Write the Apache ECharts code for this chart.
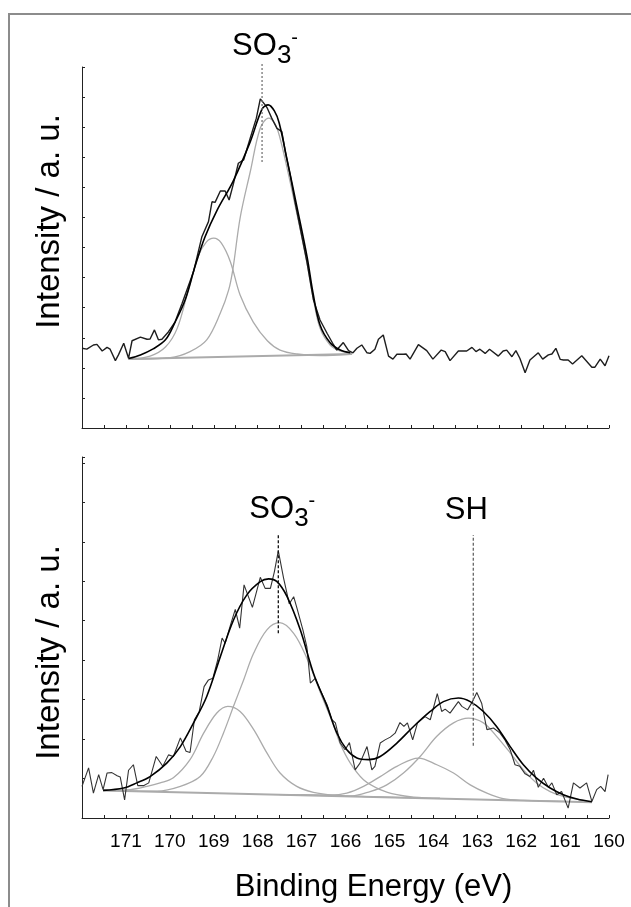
<!DOCTYPE html>
<html>
<head>
<meta charset="utf-8">
<script src="https://cdn.jsdelivr.net/npm/echarts@6/dist/echarts.min.js"></script>
<style>
html, body { margin: 0; padding: 0; background: #fff; }
#chart { width: 631px; height: 907px; }
</style>
</head>
<body>
<div id="chart"></div>
<script>
// ---- top spectrum (SO3- only) : [binding energy, intensity]
var topRaw = [[172.00,2.65],[171.89,2.62],[171.74,2.76],[171.66,2.78],[171.54,2.56],[171.43,2.68],[171.36,2.62],[171.24,2.24],[171.17,2.43],[171.05,2.82],[170.94,2.32],[170.86,2.90],[170.67,3.02],[170.52,2.95],[170.45,2.96],[170.35,3.26],[170.26,2.93],[170.18,2.95],[170.03,3.20],[169.88,3.53],[169.72,4.15],[169.46,5.20],[169.27,6.36],[169.12,6.86],[169.04,7.52],[168.97,7.50],[168.85,7.88],[168.74,7.88],[168.65,7.58],[168.55,8.13],[168.44,8.80],[168.32,8.91],[168.17,9.63],[168.03,10.30],[167.94,10.94],[167.83,10.74],[167.78,10.63],[167.68,10.30],[167.56,9.96],[167.45,9.85],[167.37,9.19],[167.26,8.41],[167.15,7.52],[167.03,6.64],[166.88,5.53],[166.73,4.26],[166.58,3.59],[166.42,3.15],[166.27,2.76],[166.20,2.59],[166.05,2.84],[165.93,2.57],[165.83,2.50],[165.74,2.65],[165.63,2.76],[165.51,2.50],[165.44,2.48],[165.33,2.62],[165.25,2.95],[165.14,3.09],[165.02,2.39],[164.92,2.29],[164.83,2.45],[164.68,2.45],[164.62,2.46],[164.53,2.29],[164.34,2.77],[164.15,2.57],[164.01,2.29],[163.82,2.59],[163.73,2.54],[163.62,2.24],[163.43,2.56],[163.24,2.56],[163.12,2.68],[163.03,2.54],[162.94,2.62],[162.82,2.48],[162.72,2.62],[162.52,2.39],[162.41,2.56],[162.33,2.59],[162.21,2.37],[162.12,2.57],[162.03,2.32],[161.91,1.84],[161.80,2.26],[161.61,2.50],[161.51,2.29],[161.38,2.43],[161.30,2.46],[161.21,2.65],[161.11,2.28],[161.04,2.26],[160.93,2.26],[160.83,2.13],[160.62,2.40],[160.39,2.02],[160.32,2.02],[160.20,2.29],[160.09,2.07],[160.00,2.40]];
var topFit = [[170.94,2.31],[170.67,2.43],[170.38,2.63],[170.10,2.93],[169.88,3.52],[169.65,4.26],[169.42,5.40],[169.20,6.35],[168.92,7.25],[168.56,8.20],[168.17,9.51],[167.90,10.60],[167.76,10.74],[167.62,10.54],[167.51,10.14],[167.33,8.91],[167.10,7.31],[166.87,5.65],[166.74,4.49],[166.58,3.42],[166.35,2.83],[166.12,2.59],[165.89,2.50]];
var topPeak1 = [[170.94,2.29],[170.45,2.39],[170.10,2.69],[169.83,3.32],[169.58,4.59],[169.35,5.72],[169.17,6.18],[169.00,6.31],[168.83,6.15],[168.62,5.52],[168.40,4.42],[168.10,3.52],[167.78,2.90],[167.49,2.59],[167.10,2.46],[166.58,2.41],[165.89,2.45]];
var topPeak2 = [[170.94,2.29],[169.99,2.34],[169.54,2.54],[169.16,2.93],[168.85,3.82],[168.66,4.59],[168.56,5.32],[168.40,6.98],[168.17,8.51],[167.94,9.97],[167.75,10.30],[167.62,10.14],[167.51,9.74],[167.33,8.64],[167.10,7.08],[166.87,5.45],[166.74,4.36],[166.58,3.32],[166.35,2.76],[166.12,2.56],[165.89,2.48]];
var topBase = [[170.94,2.29],[165.85,2.46]];
var topMark = [[167.90,8.84],[167.90,12.12]];

// ---- bottom spectrum (SO3- and SH)
var botRaw = [[172.00,0.80],[171.85,1.27],[171.74,0.63],[171.62,1.10],[171.52,0.72],[171.43,1.14],[171.32,1.15],[171.20,1.07],[171.13,1.04],[171.03,0.46],[170.94,1.21],[170.83,1.35],[170.73,0.82],[170.60,0.82],[170.48,0.89],[170.31,1.56],[170.16,1.31],[170.03,1.60],[169.92,1.56],[169.76,2.03],[169.63,1.69],[169.54,1.66],[169.44,2.49],[169.33,2.70],[169.22,3.33],[169.12,3.50],[169.02,3.54],[168.91,4.01],[168.81,4.56],[168.74,4.43],[168.63,4.85],[168.51,5.29],[168.41,4.81],[168.31,5.91],[168.12,5.34],[167.94,6.10],[167.83,5.82],[167.71,5.82],[167.62,6.24],[167.53,6.77],[167.41,6.08],[167.28,5.43],[167.18,5.61],[167.11,5.34],[166.97,4.77],[166.88,4.34],[166.80,3.42],[166.69,3.54],[166.58,3.25],[166.42,2.87],[166.31,2.49],[166.23,2.41],[166.12,1.90],[166.01,1.73],[165.91,1.91],[165.78,1.22],[165.67,1.39],[165.51,1.81],[165.40,1.22],[165.33,1.31],[165.21,1.90],[165.10,1.98],[164.98,2.05],[164.87,2.15],[164.76,2.42],[164.67,2.32],[164.59,2.41],[164.47,1.98],[164.36,2.41],[164.19,2.57],[164.07,2.49],[163.91,3.15],[163.81,2.70],[163.73,2.76],[163.62,2.66],[163.43,2.95],[163.35,2.83],[163.22,2.74],[163.12,2.93],[163.01,3.18],[162.90,2.91],[162.78,2.24],[162.63,2.28],[162.48,2.15],[162.37,1.98],[162.25,1.73],[162.14,1.35],[162.03,1.31],[161.91,1.12],[161.80,1.05],[161.72,1.21],[161.61,0.78],[161.49,1.01],[161.38,0.78],[161.30,0.89],[161.19,0.59],[161.08,0.67],[160.93,0.25],[160.81,0.89],[160.66,0.76],[160.51,0.89],[160.39,0.42],[160.28,0.72],[160.19,0.80],[160.09,0.67],[160.02,1.10]];
var botFit = [[171.52,0.70],[171.05,0.76],[170.75,0.89],[170.45,1.05],[170.07,1.39],[169.76,1.81],[169.46,2.41],[169.16,3.08],[168.85,4.09],[168.55,5.02],[168.25,5.65],[167.94,5.99],[167.75,6.06],[167.56,5.99],[167.33,5.61],[167.03,4.77],[166.73,3.67],[166.42,2.83],[166.20,2.16],[165.97,1.73],[165.74,1.52],[165.48,1.48],[165.21,1.56],[164.83,1.90],[164.45,2.32],[164.07,2.70],[163.77,2.95],[163.43,3.04],[163.16,2.95],[162.86,2.70],[162.56,2.32],[162.25,1.81],[161.95,1.35],[161.65,1.01],[161.34,0.76],[161.04,0.59],[160.73,0.48],[160.39,0.41]];
var botPeak1 = [[171.52,0.70],[170.90,0.72],[170.52,0.80],[170.22,0.89],[169.92,1.02],[169.54,1.48],[169.23,2.15],[168.93,2.66],[168.68,2.83],[168.40,2.70],[168.09,2.24],[167.79,1.65],[167.49,1.14],[167.11,0.80],[166.73,0.65],[166.27,0.58],[165.44,0.54],[164.50,0.51]];
var botPeak2 = [[171.52,0.70],[170.29,0.68],[169.76,0.80],[169.31,1.05],[169.01,1.56],[168.78,2.15],[168.55,2.83],[168.32,3.50],[168.09,4.18],[167.79,4.77],[167.50,4.95],[167.18,4.68],[166.88,4.05],[166.58,3.20],[166.27,2.35],[166.12,1.88],[165.89,1.39],[165.59,0.97],[165.21,0.72],[164.83,0.59],[164.45,0.53],[163.85,0.50]];
var botPeak3 = [[167.50,0.59],[166.35,0.58],[165.97,0.63],[165.59,0.80],[165.21,1.05],[164.83,1.31],[164.34,1.52],[163.92,1.35],[163.54,1.14],[163.16,0.84],[162.78,0.63],[162.41,0.49],[161.95,0.445],[161.00,0.42]];
var botPeak4 = [[167.00,0.58],[166.35,0.57],[165.89,0.555],[165.44,0.67],[165.06,0.84],[164.68,1.14],[164.30,1.56],[163.92,2.07],[163.54,2.41],[163.20,2.53],[162.86,2.41],[162.56,2.07],[162.25,1.65],[161.95,1.22],[161.65,0.89],[161.34,0.67],[161.04,0.55],[160.66,0.46],[160.39,0.41]];
var botBase = [[171.52,0.70],[160.39,0.40]];
var botMarkSO3 = [[167.53,4.68],[167.53,7.17]];
var botMarkSH = [[163.09,1.83],[163.09,7.17]];

var FONT = 'Liberation Sans, Arial, sans-serif';

var chart = echarts.init(document.getElementById('chart'));

function curve(data, grid, color, width, smooth, z) {
    return {
        type: 'line',
        data: data,
        xAxisIndex: grid,
        yAxisIndex: grid,
        showSymbol: false,
        symbol: 'none',
        smooth: smooth,
        lineStyle: { color: color, width: width },
        z: z,
        silent: true
    };
}

var richText = {
    m: { fontSize: 31, lineHeight: 45, fontFamily: FONT, color: '#000' },
    s: { fontSize: 26, lineHeight: 26, verticalAlign: 'bottom', fontFamily: FONT, color: '#000' },
    p: { fontSize: 20, lineHeight: 20, verticalAlign: 'top', padding: [5, 0, 0, 0], fontFamily: FONT, color: '#000' }
};

function marker(data, grid, color, dash, text, offset) {
    return {
        type: 'line',
        xAxisIndex: grid,
        yAxisIndex: grid,
        clip: false,
        symbol: 'circle',
        symbolSize: 1,
        itemStyle: { color: 'rgba(0,0,0,0)' },
        lineStyle: { color: color, width: 1.3, type: dash },
        data: [data[0], {
            value: data[1],
            label: {
                show: true,
                position: 'inside',
                offset: offset,
                formatter: text,
                rich: richText
            }
        }],
        z: 5,
        silent: true
    };
}

function xAxisOf(grid, withLabels) {
    return {
        gridIndex: grid,
        type: 'value',
        min: 160,
        max: 172,
        interval: 0.5,
        inverse: true,
        axisLine: { show: true, onZero: false, lineStyle: { color: '#222', width: 1 } },
        axisTick: { show: true, inside: true, length: 3, lineStyle: { color: '#222' } },
        splitLine: { show: false },
        axisLabel: withLabels ? {
            show: true,
            margin: 14,
            fontSize: 19,
            color: '#000',
            fontFamily: FONT,
            formatter: function (v) {
                return (v % 1 === 0 && v !== 172) ? String(v) : '';
            }
        } : { show: false },
        name: withLabels ? 'Binding Energy (eV)' : '',
        nameLocation: 'middle',
        nameGap: 54,
        nameTextStyle: { fontSize: 31, color: '#000', fontFamily: FONT, padding: [0, 0, 0, 56] }
    };
}

function yAxisOf(grid, max, pad) {
    return {
        gridIndex: grid,
        type: 'value',
        min: 0,
        max: max,
        interval: 1,
        axisLine: { show: true, lineStyle: { color: '#222', width: 1 } },
        axisTick: { show: true, inside: true, length: 3, lineStyle: { color: '#222' } },
        axisLabel: { show: false },
        splitLine: { show: false },
        name: 'Intensity / a. u.',
        nameLocation: 'middle',
        nameRotate: 90,
        nameGap: 16,
        nameTextStyle: { fontSize: 33, color: '#000', fontFamily: FONT, padding: pad }
    };
}

var option = {
    animation: false,
    backgroundColor: '#fff',
    graphic: [{
        type: 'rect',
        shape: { x: 9, y: 14, width: 640, height: 910 },
        style: { fill: 'none', stroke: '#8c8c8c', lineWidth: 2 },
        silent: true
    }],
    grid: [
        { left: 82, top: 67, width: 527, height: 361 },
        { left: 82, top: 457, width: 527, height: 361 }
    ],
    xAxis: [xAxisOf(0, false), xAxisOf(1, true)],
    yAxis: [yAxisOf(0, 12, [0, 0, 0, 52]), yAxisOf(1, 9.15, [0, 30, 0, 0])],
    series: [
        curve(topBase, 0, '#ababab', 2, false, 1),
        curve(topPeak1, 0, '#ababab', 1.3, 0.35, 2),
        curve(topPeak2, 0, '#ababab', 1.3, 0.35, 2),
        curve(topRaw, 0, '#1e1e1e', 1.4, false, 3),
        curve(topFit, 0, '#000', 1.6, 0.35, 4),
        marker(topMark, 0, '#777', [2, 2], '{m|SO}{s|3}{p|-}', [3, -17]),

        curve(botBase, 1, '#ababab', 2, false, 1),
        curve(botPeak1, 1, '#ababab', 1.3, 0.35, 2),
        curve(botPeak2, 1, '#ababab', 1.3, 0.35, 2),
        curve(botPeak3, 1, '#ababab', 1.3, 0.35, 2),
        curve(botPeak4, 1, '#ababab', 1.3, 0.35, 2),
        curve(botRaw, 1, '#333', 1.1, false, 3),
        curve(botFit, 1, '#000', 1.6, 0.35, 4),
        marker(botMarkSO3, 1, '#111', [3, 2], '{m|SO}{s|3}{p|-}', [4, -26]),
        marker(botMarkSH, 1, '#666', [3, 2], '{m|SH}', [-7, -25])
    ]
};

chart.setOption(option);
</script>
</body>
</html>
